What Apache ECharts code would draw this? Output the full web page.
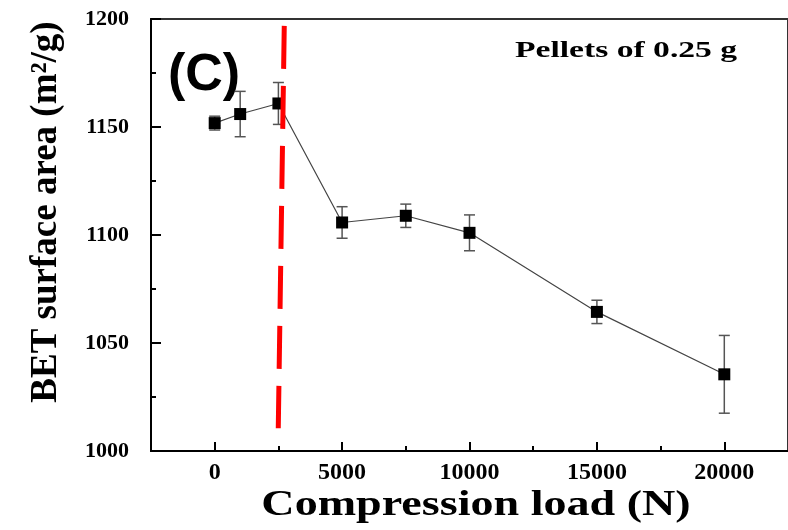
<!DOCTYPE html>
<html>
<head>
<meta charset="utf-8">
<script src="https://cdn.jsdelivr.net/npm/echarts@6/dist/echarts.min.js"></script>
<style>
  html, body { margin: 0; padding: 0; background: #fff; }
  #chart { width: 788px; height: 530px; }
</style>
</head>
<body>
<div id="chart"></div>
<script>
// 数据
let loads = [0, 1000, 2500, 5000, 7500, 10000, 15000, 20000]
let bet = [1151.8, 1156.0, 1160.9, 1105.8, 1108.9, 1101.0, 1064.4, 1035.5]
let errs = [3.2, 10.5, 9.7, 7.3, 5.4, 8.3, 5.4, 18.0]
let xTickVals = [0, 5000, 10000, 15000, 20000]
let xMinorVals = [2500, 7500, 12500, 17500]
let redLine = [[2730, 1196.8], [2495, 1010.5]]

let serif = "'Liberation Serif', 'Times New Roman', serif"

let pts = loads.map((v, i) => [v, bet[i]])
let errData = loads.map((v, i) => [v, bet[i] - errs[i], bet[i] + errs[i]])

let myChart = echarts.init(document.getElementById('chart'))

let option = {
    animation: false,
    grid: {
        left: 151, top: 19, right: -3, bottom: 79,
        show: true, borderColor: '#333', borderWidth: 2
    },
    xAxis: [{
        type: 'value', min: -2500, max: 22500,
        axisLine: { onZero: false, lineStyle: { color: '#000', width: 2 } },
        axisTick: { inside: true, length: 9, customValues: xTickVals, lineStyle: { color: '#000', width: 2 } },
        axisLabel: { customValues: xTickVals, margin: 10, color: '#000', fontFamily: serif, fontWeight: 'bold', fontSize: 24, formatter: v => String(v) },
        splitLine: { show: false }
    }, {
        // 小刻度
        type: 'value', min: -2500, max: 22500, position: 'bottom',
        axisLine: { show: false, onZero: false },
        axisTick: { inside: true, length: 5, customValues: xMinorVals, lineStyle: { color: '#000', width: 2 } },
        axisLabel: { show: false },
        splitLine: { show: false }
    }],
    yAxis: {
        type: 'value', min: 1000, max: 1200, interval: 50,
        axisLine: { show: true, onZero: false, lineStyle: { color: '#000', width: 2 } },
        axisTick: { show: true, inside: true, length: 10, lineStyle: { color: '#000', width: 2 } },
        minorTick: { show: true, splitNumber: 2, length: 5, lineStyle: { color: '#000', width: 2 } },
        axisLabel: { margin: 22, color: '#000', fontFamily: serif, fontWeight: 'bold', fontSize: 22, formatter: v => String(v) },
        splitLine: { show: false }
    },
    graphic: [
        {
            type: 'text', x: 168, y: 76,
            style: { text: '(C)', fontFamily: "'Liberation Sans', Arial, sans-serif", fontWeight: 'bold', fontSize: 52, fill: '#000', align: 'left', verticalAlign: 'middle' }
        },
        {
            type: 'text', x: 515, y: 51, scaleX: 1.4,
            style: { text: 'Pellets of 0.25 g', fontFamily: serif, fontWeight: 'bold', fontSize: 24, fill: '#000', align: 'left', verticalAlign: 'middle' }
        },
        {
            type: 'text', x: 476, y: 506, scaleX: 1.28,
            style: { text: 'Compression load (N)', fontFamily: serif, fontWeight: 'bold', fontSize: 36, fill: '#000', align: 'center', verticalAlign: 'middle' }
        },
        {
            type: 'text', x: 46, y: 212, rotation: Math.PI / 2,
            style: { text: 'BET surface area (m²/g)', fontFamily: serif, fontWeight: 'bold', fontSize: 37, fill: '#000', align: 'center', verticalAlign: 'middle' }
        }
    ],
    series: [
        {
            type: 'custom',
            data: errData,
            z: 2,
            renderItem: function (params, api) {
                let top = api.coord([api.value(0), api.value(2)])
                let bot = api.coord([api.value(0), api.value(1)])
                let w = 5.5
                let st = { stroke: '#555', lineWidth: 1.5 }
                return {
                    type: 'group',
                    children: [
                        { type: 'line', shape: { x1: top[0], y1: top[1], x2: bot[0], y2: bot[1] }, style: st },
                        { type: 'line', shape: { x1: top[0] - w, y1: top[1], x2: top[0] + w, y2: top[1] }, style: st },
                        { type: 'line', shape: { x1: bot[0] - w, y1: bot[1], x2: bot[0] + w, y2: bot[1] }, style: st }
                    ]
                }
            }
        },
        {
            type: 'line',
            data: pts,
            z: 3,
            symbol: 'rect',
            symbolSize: 12,
            lineStyle: { color: '#444', width: 1.2 },
            itemStyle: { color: '#000' }
        },
        {
            type: 'line',
            data: redLine,
            z: 4,
            symbol: 'none',
            lineStyle: { color: '#ff0000', width: 5, type: [43, 17] }
        }
    ]
};
myChart.setOption(option);
</script>
</body>
</html>
